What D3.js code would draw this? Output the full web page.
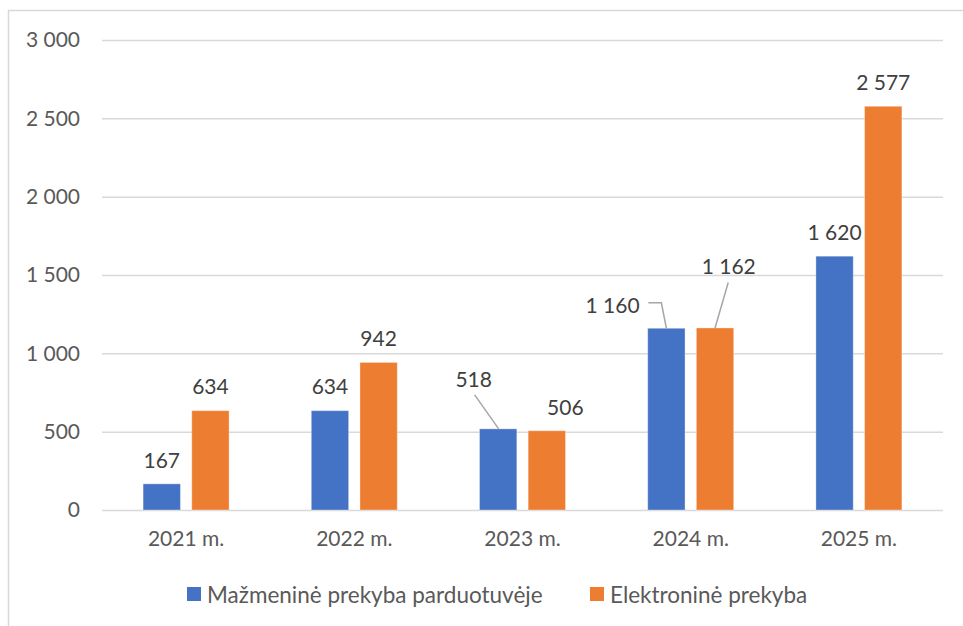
<!DOCTYPE html>
<html>
<head>
<meta charset="utf-8">
<script src="https://cdn.jsdelivr.net/npm/d3@7"></script>
<style>
  html, body { margin: 0; padding: 0; background: #ffffff; }
  svg { display: block; }
  text { font-family: Lato, "Open Sans", sans-serif; }
</style>
</head>
<body>
<svg id="chart" width="963" height="626"></svg>
<script>
// ---- data ----
const categories = ["2021 m.", "2022 m.", "2023 m.", "2024 m.", "2025 m."];
const seriesNames = ["Mažmeninė prekyba parduotuvėje", "Elektroninė prekyba"];
const retailValues = [167, 634, 518, 1160, 1620];
const onlineValues = [634, 942, 506, 1162, 2577];
const yTicks = [0, 500, 1000, 1500, 2000, 2500, 3000];

// ---- layout / style ----
const colors = ["#4472C4", "#ED7D31"];
const W = 963, H = 626;
const plot = { left: 102, right: 943, top: 40, bottom: 510 };
const barW = 38, barGap = 10;

// label placement tweaks (offset of label centre from bar top-centre) and leader lines
const labelAdjust = {
  "0-2": { dx: -24.5, dy: -50.5, leader: [[-23.5, -34], [0.5, 0]] },
  "1-2": { dx: 18.5, dy: -24.7 },
  "0-3": { dx: -53.8, dy: -23.3, leader: [[-18, -25.5], [-5, -25.5], [0, 0]] },
  "1-3": { dx: 13.7, dy: -62, leader: [[13.2, -45.5], [0, 0]] }
};

const svg = d3.select("#chart");
const locale = d3.formatLocale({ decimal: ",", thousands: " ", grouping: [3], currency: ["", ""] });
const fmt = locale.format(",d");

const x = d3.scaleBand().domain(categories).range([plot.left, plot.right]).paddingInner(0).paddingOuter(0);
const xSub = d3.scaleBand().domain([0, 1]).range([-(barW + barGap / 2), barW + barGap / 2]).paddingInner(barGap / (barW * 2 + barGap) * 2).paddingOuter(0);
const y = d3.scaleLinear().domain([0, 3000]).range([plot.bottom, plot.top]);

// chart frame (left + top lines)
svg.append("path")
  .attr("d", `M8.5,${H} L8.5,10.5 L${W},10.5`)
  .attr("fill", "none").attr("stroke", "#d9d9d9").attr("stroke-width", 1.5);

// gridlines + y labels via axis
const yAxis = d3.axisLeft(y).tickValues(yTicks).tickSize(-(plot.right - plot.left)).tickPadding(22).tickFormat(fmt);
const gy = svg.append("g").attr("transform", `translate(${plot.left},0)`).call(yAxis);
gy.select(".domain").remove();
gy.selectAll(".tick line").attr("stroke", "#d9d9d9").attr("stroke-width", 1.5);
gy.selectAll(".tick text").attr("fill", "#595959").attr("font-size", 21).attr("font-family", "Lato, sans-serif");

// x labels
const xAxis = d3.axisBottom(x).tickSize(0).tickPadding(21);
const gx = svg.append("g").attr("transform", `translate(0,${plot.bottom})`).call(xAxis);
gx.select(".domain").remove();
gx.selectAll(".tick text").attr("fill", "#595959").attr("font-size", 21).attr("font-family", "Lato, sans-serif");

// bars
const series = [retailValues, onlineValues];
const rows = [];
series.forEach((vals, s) => vals.forEach((v, i) => rows.push({ s, i, v, cat: categories[i] })));

const bw = xSub.bandwidth();
svg.append("g").selectAll("rect").data(rows).join("rect")
  .attr("x", d => x(d.cat) + x.bandwidth() / 2 + xSub(d.s))
  .attr("y", d => y(d.v))
  .attr("width", bw)
  .attr("height", d => y(0) - y(d.v))
  .attr("fill", d => colors[d.s])
  .attr("stroke", "#ffffff").attr("stroke-opacity", 0.35).attr("stroke-width", 1);

// data labels + leaders
const lg = svg.append("g");
rows.forEach(d => {
  const cx = x(d.cat) + x.bandwidth() / 2 + xSub(d.s) + bw / 2;
  const top = y(d.v);
  const adj = labelAdjust[`${d.s}-${d.i}`] || { dx: 0, dy: -24.7 };
  if (adj.leader) {
    lg.append("path")
      .attr("d", d3.line()(adj.leader.map(p => [cx + p[0], top + p[1]])))
      .attr("fill", "none").attr("stroke", "#a6a6a6").attr("stroke-width", 1.5);
  }
  lg.append("text")
    .attr("x", cx + adj.dx).attr("y", top + adj.dy)
    .attr("text-anchor", "middle").attr("dominant-baseline", "central")
    .attr("fill", "#404040").attr("font-size", 21)
    .text(fmt(d.v));
});

// legend
const legendItems = [
  { name: seriesNames[0], color: colors[0], x: 187 },
  { name: seriesNames[1], color: colors[1], x: 590 }
];
const leg = svg.append("g");
legendItems.forEach(it => {
  leg.append("rect").attr("x", it.x).attr("y", 587).attr("width", 14).attr("height", 14).attr("fill", it.color);
  leg.append("text").attr("x", it.x + 20).attr("y", 594)
    .attr("dominant-baseline", "central")
    .attr("fill", "#595959").attr("font-size", 22.5).text(it.name);
});
</script>
</body>
</html>
